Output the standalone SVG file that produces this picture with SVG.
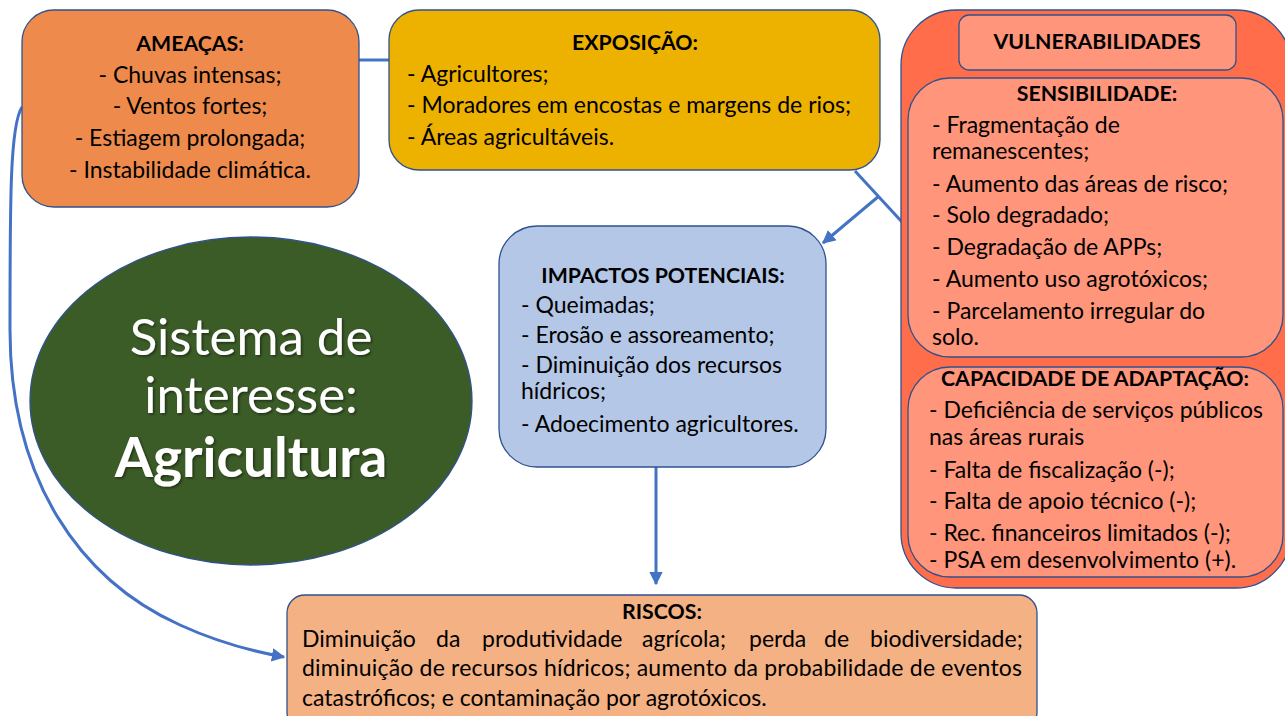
<svg xmlns="http://www.w3.org/2000/svg" width="1285" height="716" viewBox="0 0 1285 716">
<defs>
<marker id="arr" viewBox="0 0 10 10" refX="9" refY="5" markerWidth="4.5" markerHeight="4.5" orient="auto" markerUnits="strokeWidth">
<path d="M0,0 L10,5 L0,10 z" fill="#4472C4"/>
</marker>
<filter id="sh" x="-10%" y="-10%" width="120%" height="120%">
<feDropShadow dx="1.5" dy="1.5" stdDeviation="1" flood-color="#000" flood-opacity="0.45"/>
</filter>
</defs>
<style>
.box{stroke:#2F528F;stroke-width:1.3}
.t{font-family:Lato,"Open Sans",sans-serif;font-size:23px;fill:#000}
.b{font-weight:bold;font-size:21.3px}
.c{text-anchor:middle}
.con{fill:none;stroke:#4472C4;stroke-width:3}
.big{font-family:Lato,"Open Sans",sans-serif;fill:#fff;text-anchor:middle}
</style>
<rect width="1285" height="716" fill="#fff"/>

<g id="connectors">
<line class="con" x1="359" y1="60" x2="389" y2="60"/>
<line class="con" x1="855" y1="171" x2="902" y2="222"/>
<line class="con" x1="879" y1="196" x2="823" y2="243" marker-end="url(#arr)"/>
<line class="con" x1="656" y1="467" x2="656" y2="584" marker-end="url(#arr)"/>
<path class="con" d="M22,107 C10,125 10,200 10,330 C10,480 80,580 180,625 C215,641 250,651 284,657" marker-end="url(#arr)"/>
</g>

<g id="ameacas">
<rect class="box" x="22" y="10" width="337" height="197" rx="32" fill="#EE8B4C"/>
<text class="t b c" x="190" y="51">AMEAÇAS:</text>
<text class="t c" x="190" y="83">- Chuvas intensas;</text>
<text class="t c" x="190" y="114">- Ventos fortes;</text>
<text class="t c" x="190" y="146">- Estiagem prolongada;</text>
<text class="t c" x="190" y="178">- Instabilidade climática.</text>
</g>

<g id="exposicao">
<rect class="box" x="389" y="10" width="491" height="160" rx="30" fill="#EDB100"/>
<text class="t b c" x="635" y="50">EXPOSIÇÃO:</text>
<text class="t" x="407" y="82">- Agricultores;</text>
<text class="t" x="407" y="113">- Moradores em encostas e margens de rios;</text>
<text class="t" x="407" y="145">- Áreas agricultáveis.</text>
</g>

<g id="vulnerabilidades">
<rect class="box" x="901" y="10" width="390" height="578" rx="55" fill="#FF6D4A"/>
<rect class="box" x="959" y="15" width="277" height="55" rx="10" fill="#FF957A"/>
<text class="t b c" x="1097" y="49">VULNERABILIDADES</text>
</g>

<g id="sensibilidade">
<rect class="box" x="908" y="78" width="375" height="279" rx="42" fill="#FF957A"/>
<text class="t b c" x="1097" y="101">SENSIBILIDADE:</text>
<text class="t" x="932" y="133">- Fragmentação de</text>
<text class="t" x="932" y="159">remanescentes;</text>
<text class="t" x="932" y="192">- Aumento das áreas de risco;</text>
<text class="t" x="932" y="223">- Solo degradado;</text>
<text class="t" x="932" y="255">- Degradação de APPs;</text>
<text class="t" x="932" y="287">- Aumento uso agrotóxicos;</text>
<text class="t" x="932" y="319">- Parcelamento irregular do</text>
<text class="t" x="932" y="345">solo.</text>
</g>

<g id="capacidade">
<rect class="box" x="908" y="367" width="375" height="210" rx="42" fill="#FF957A"/>
<text class="t b c" x="1095" y="386">CAPACIDADE DE ADAPTAÇÃO:</text>
<text class="t" x="929" y="418">- Deficiência de serviços públicos</text>
<text class="t" x="929" y="445">nas áreas rurais</text>
<text class="t" x="929" y="478">- Falta de fiscalização (-);</text>
<text class="t" x="929" y="509">- Falta de apoio técnico (-);</text>
<text class="t" x="929" y="541">- Rec. financeiros limitados (-);</text>
<text class="t" x="929" y="568">- PSA em desenvolvimento (+).</text>
</g>

<g id="impactos">
<rect class="box" x="499" y="226" width="327" height="241" rx="38" fill="#B4C7E7"/>
<text class="t b c" x="663" y="283">IMPACTOS POTENCIAIS:</text>
<text class="t" x="521" y="313">- Queimadas;</text>
<text class="t" x="521" y="343">- Erosão e assoreamento;</text>
<text class="t" x="521" y="373">- Diminuição dos recursos</text>
<text class="t" x="521" y="399">hídricos;</text>
<text class="t" x="521" y="432">- Adoecimento agricultores.</text>
</g>

<g id="sistema">
<ellipse cx="251" cy="401" rx="221" ry="164" fill="#3B5B27" stroke="#2F528F" stroke-width="1.3"/>
<text class="big" x="251" y="355" font-size="51" filter="url(#sh)">Sistema de</text>
<text class="big" x="251" y="413" font-size="51" filter="url(#sh)">interesse:</text>
<text class="big" x="251" y="477" font-size="55" font-weight="bold" filter="url(#sh)">Agricultura</text>
</g>

<g id="riscos">
<rect class="box" x="287" y="595" width="750" height="135" rx="18" fill="#F4B183"/>
<text class="t b c" x="662" y="619">RISCOS:</text>
<text class="t" y="647"><tspan x="302">Diminuição</tspan><tspan x="436">da</tspan><tspan x="482">produtividade</tspan><tspan x="642">agrícola;</tspan><tspan x="749">perda</tspan><tspan x="824">de</tspan><tspan x="870">biodiversidade;</tspan></text>
<text class="t" x="302" y="676" textLength="720" lengthAdjust="spacing">diminuição de recursos hídricos; aumento da probabilidade de eventos</text>
<text class="t" x="302" y="706">catastróficos; e contaminação por agrotóxicos.</text>
</g>
</svg>
